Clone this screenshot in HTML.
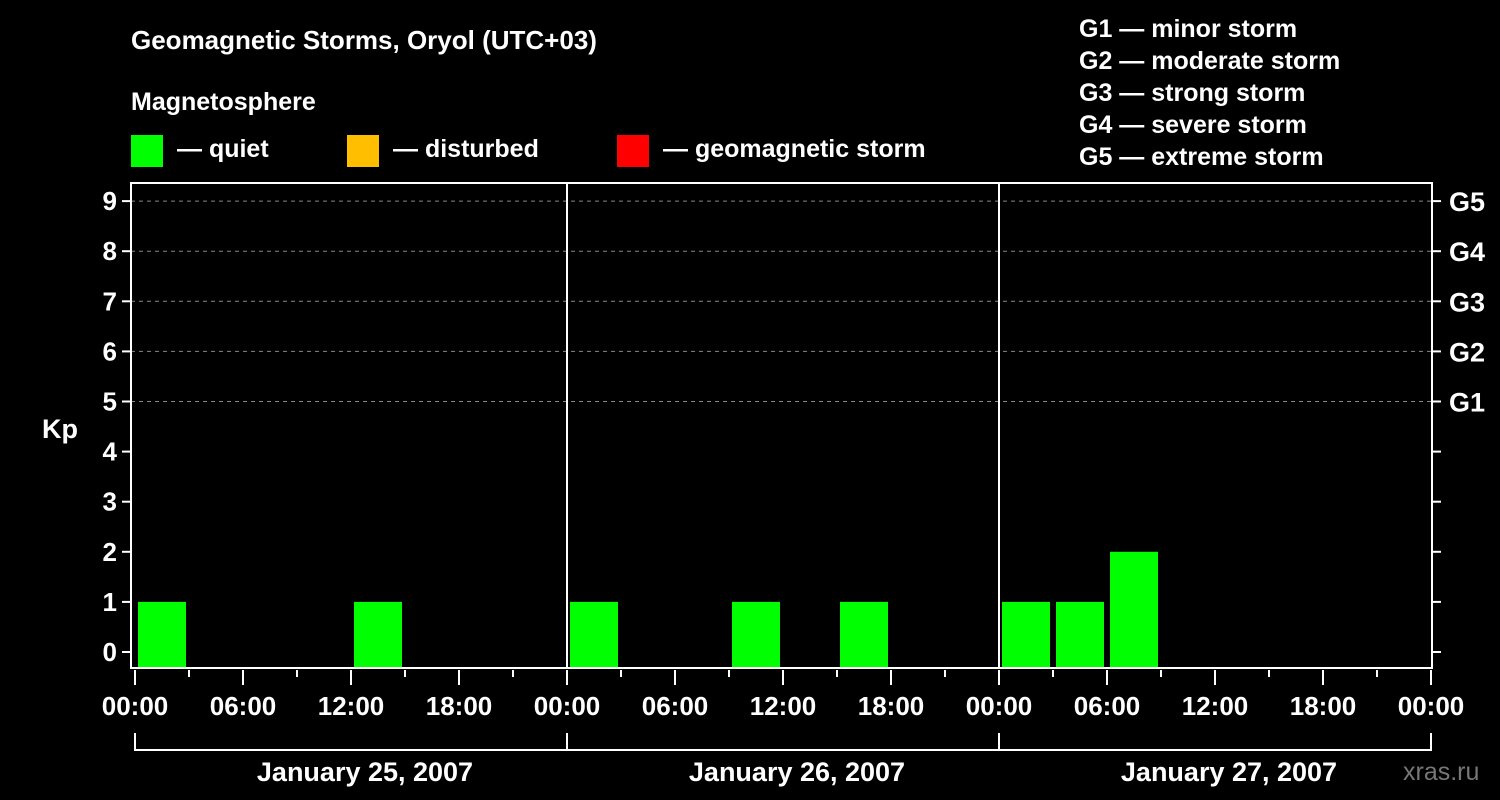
<!DOCTYPE html>
<html><head><meta charset="utf-8"><style>
html,body{margin:0;padding:0;background:#000;}
svg{display:block;font-family:"Liberation Sans",Arial,sans-serif;font-weight:bold;}
</style></head><body>
<svg id="chart" width="1500" height="800" viewBox="0 0 1500 800">
<rect width="1500" height="800" fill="#000"/>
<text x="131" y="49" fill="#fff" font-size="26">Geomagnetic Storms, Oryol (UTC+03)</text>
<text x="131" y="110" fill="#fff" font-size="25">Magnetosphere</text>
<g><rect x="131" y="135" width="32" height="32" fill="#00ff00"/><text x="177" y="157" fill="#fff" font-size="25">— quiet</text></g>
<g><rect x="347" y="135" width="32" height="32" fill="#ffbf00"/><text x="393" y="157" fill="#fff" font-size="25">— disturbed</text></g>
<g><rect x="617" y="135" width="32" height="32" fill="#ff0000"/><text x="663" y="157" fill="#fff" font-size="25">— geomagnetic storm</text></g>
<g fill="#fff" font-size="25">
<text x="1079" y="37">G1 — minor storm</text>
<text x="1079" y="69">G2 — moderate storm</text>
<text x="1079" y="101">G3 — strong storm</text>
<text x="1079" y="133">G4 — severe storm</text>
<text x="1079" y="165">G5 — extreme storm</text>
</g>
<text x="42" y="438" fill="#fff" font-size="27">Kp</text>
<text x="1403" y="780" fill="#777" font-size="25" font-weight="normal">xras.ru</text>
<g id="plot"></g>
</svg>
<script>
const days = ["January 25, 2007","January 26, 2007","January 27, 2007"];
const kpDay1 = [1,null,null,null,1,null,null,null];
const kpDay2 = [1,null,null,1,null,1,null,null];
const kpDay3 = [1,1,2,null,null,null,null,null];
const yTicks = [0,1,2,3,4,5,6,7,8,9];
const gLabels = ["G1","G2","G3","G4","G5"];
const gLevels = [5,6,7,8,9];
const hourLabels = ["00:00","06:00","12:00","18:00"];

const NS="http://www.w3.org/2000/svg";
const g=document.getElementById('plot');
const L=131,R=1432,T=183,B=668,X0=135,DAYW=432;
const y=v=>652-v*50.1;
const x=h=>X0+h*(DAYW/24);
function mk(tag,attrs,parent){const e=document.createElementNS(NS,tag);for(const k in attrs)e.setAttribute(k,attrs[k]);(parent||g).appendChild(e);return e;}
// grid
gLevels.forEach(v=>{
  const ln=mk('line',{x1:L,x2:R,y1:y(v),y2:y(v),stroke:'#888','stroke-dasharray':'4,4','stroke-width':1});
  
  
});
// bars
[kpDay1,kpDay2,kpDay3].forEach((arr,d)=>{
  arr.forEach((v,i)=>{
    if(v===null)return;
    const x1=x(d*24+i*3)+3,x2=x(d*24+i*3+3)-3;
    const col=v>=5?'#ff0000':(v>=4?'#ffbf00':'#00ff00');
    const r=mk('rect',{x:x1,y:y(v),width:x2-x1,height:B-y(v),fill:col});
    
    
  });
});
// frame
const fr=mk('rect',{x:L,y:T,width:R-L,height:B-T,fill:'none',stroke:'#fff','stroke-width':2});


[1,2].forEach(d=>{
  const dl=mk('line',{x1:x(d*24),x2:x(d*24),y1:T,y2:B,stroke:'#fff','stroke-width':2});
  
  
});
// y ticks
yTicks.forEach(v=>{
  mk('line',{x1:L-9,x2:L,y1:y(v),y2:y(v),stroke:'#fff','stroke-width':2});
  mk('line',{x1:R,x2:R+9,y1:y(v),y2:y(v),stroke:'#fff','stroke-width':2});
  const t=mk('text',{x:L-14,y:y(v)+9,fill:'#fff','font-size':26,'text-anchor':'end'});
  t.textContent=v;
  
  
});
gLabels.forEach((s,i)=>{
  const t=mk('text',{x:1449,y:y(gLevels[i])+10,fill:'#fff','font-size':27});
  t.textContent=s;
  
  
});
// x ticks
for(let h=0;h<=72;h+=3){
  const major=h%6===0;
  mk('line',{x1:x(h),x2:x(h),y1:B+2,y2:major?B+17:B+9,stroke:'#fff','stroke-width':2});
  if(major){
    const t=mk('text',{x:x(h),y:715,fill:'#fff','font-size':26,'text-anchor':'middle'});
    t.textContent=hourLabels[(h/6)%4];
    
    
  }
}
// day brackets
days.forEach((s,d)=>{
  const a=x(d*24),b=x(d*24+24);
  mk('line',{x1:a,x2:b,y1:750,y2:750,stroke:'#fff','stroke-width':2});
  mk('line',{x1:a,x2:a,y1:733,y2:751,stroke:'#fff','stroke-width':2});
  const t=mk('text',{x:(a+b)/2+14,y:781,fill:'#fff','font-size':27,'text-anchor':'middle'});
  t.textContent=s;
  
  
});
mk('line',{x1:x(72),x2:x(72),y1:733,y2:751,stroke:'#fff','stroke-width':2});
</script>
</body></html>
